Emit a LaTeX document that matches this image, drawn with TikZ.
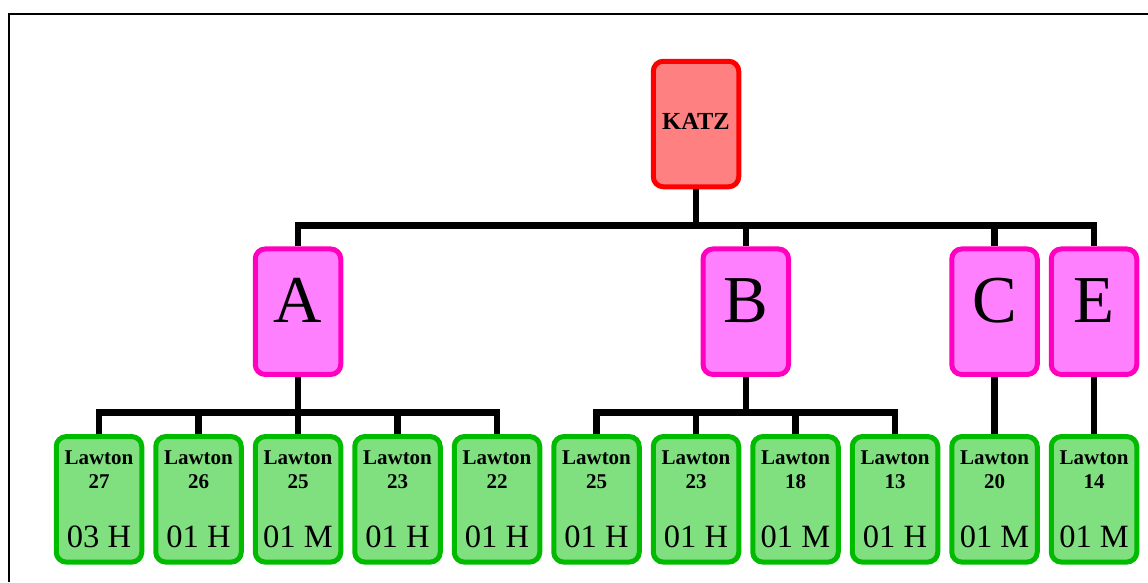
\documentclass[tikz,border=0pt]{standalone}
\usepackage{fontspec}
\setmainfont{Liberation Serif}
\definecolor{katzfill}{HTML}{FF8080}
\definecolor{katzline}{HTML}{FF0000}
\definecolor{grpfill}{HTML}{FF80FF}
\definecolor{grpline}{HTML}{FF00C0}
\definecolor{leaffill}{HTML}{80E080}
\definecolor{leafline}{HTML}{00BB00}
\newcommand{\lawton}[2]{\textbf{Lawton}\\\textbf{#1}\\[35.5pt]{\fontsize{32.5}{35}\selectfont #2}}

\begin{document}
\begin{tikzpicture}[x=1pt,y=-1pt,
    box/.style={rounded corners=10pt, line width=5pt, minimum width=85.5pt, minimum height=125.5pt, inner sep=0pt},
    katzbox/.style={box, draw=katzline, fill=katzfill, font=\fontsize{24.5}{28}\selectfont\bfseries, text height=10pt, text depth=0pt},
    grpbox/.style={box, draw=grpline, fill=grpfill, font=\fontsize{67}{70}\selectfont, text height=20.6pt, text depth=0pt},
    leafbox/.style={box, draw=leafline, fill=leaffill, align=center, font=\fontsize{21}{23.5}\selectfont},
    wire/.style={line width=6.5pt}]
    \useasboundingbox (0,0) rectangle (1148,582);
    \draw[line width=2.3pt] (9,582) |- (1148,14.3);

    \node[katzbox] (katz) at (696,124) {KATZ};
    \node[grpbox] (A) at (298,311.7) {A};
    \node[grpbox] (B) at (745.75,311.7) {B};
    \node[grpbox] (C) at (994.5,311.7) {C};
    \node[grpbox] (E) at (1094,311.7) {E};

    \node[leafbox] (a27) at (99,499.3) {\lawton{27}{03 H}};
    \node[leafbox] (a26) at (198.5,499.3) {\lawton{26}{01 H}};
    \node[leafbox] (a25) at (298,499.3) {\lawton{25}{01 M}};
    \node[leafbox] (a23) at (397.5,499.3) {\lawton{23}{01 H}};
    \node[leafbox] (a22) at (497,499.3) {\lawton{22}{01 H}};
    \node[leafbox] (b25) at (596.5,499.3) {\lawton{25}{01 H}};
    \node[leafbox] (b23) at (696,499.3) {\lawton{23}{01 H}};
    \node[leafbox] (b18) at (795.5,499.3) {\lawton{18}{01 M}};
    \node[leafbox] (b13) at (895,499.3) {\lawton{13}{01 H}};
    \node[leafbox] (c20) at (994.5,499.3) {\lawton{20}{01 M}};
    \node[leafbox] (e14) at (1094,499.3) {\lawton{14}{01 M}};

    \coordinate (top) at (696,225.5);
    \coordinate (subA) at (298,412.5);
    \coordinate (subB) at (745.75,412.5);
    \draw[wire] (katz.south) -- (top)
    (A.north) |- (top) -| (E.north)
    (B.north) |- (top)
    (C.north) |- (top);
    \draw[wire] (A.south) -- (subA)
    (a27.north) |- (subA) -| (a22.north)
    (a26.north) |- (subA)
    (a25.north) -- (subA)
    (a23.north) |- (subA);
    \draw[wire] (B.south) -- (subB)
    (b25.north) |- (subB) -| (b13.north)
    (b23.north) |- (subB)
    (b18.north) |- (subB);
    \draw[wire] (C.south) -- (c20.north)
    (E.south) -- (e14.north);
\end{tikzpicture}
\end{document}
